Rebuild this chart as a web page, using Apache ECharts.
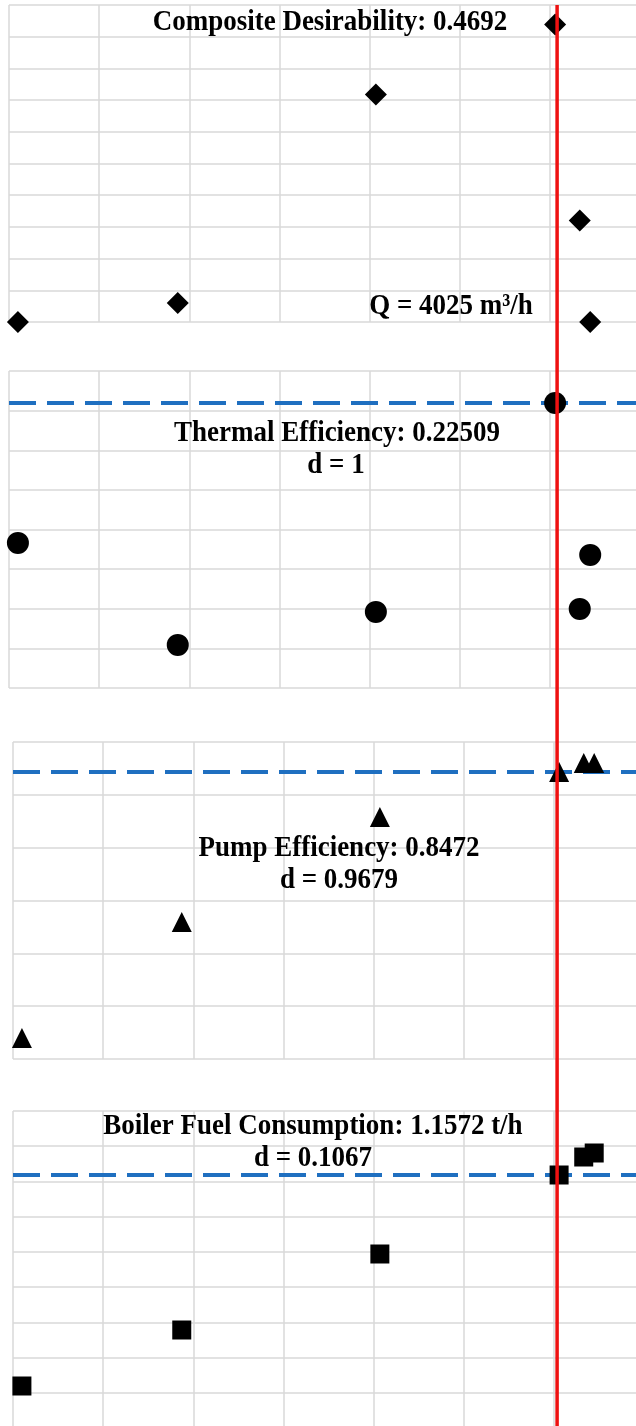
<!DOCTYPE html>
<html>
<head>
<meta charset="utf-8">
<script src="https://cdn.jsdelivr.net/npm/echarts@6/dist/echarts.min.js"></script>
<style>
html,body{margin:0;padding:0;background:#fff;}
#chart{width:636px;height:1426px;}
</style>
</head>
<body>
<div id="chart"></div>
<script>
// ---- data ----
const flowQ = [3000, 3305, 3683, 4025, 4072, 4092];          // m3/h
const optimumQ = 4025;
const compositeD = [0.000, 0.030, 0.359, 0.4692, 0.160, 0.000];
const thermalEff = [0.2111, 0.2009, 0.2042, 0.22509, 0.2045, 0.2099];
const pumpEff = [0.7142, 0.7722, 0.8247, 0.8472, 0.8517, 0.8517];
const boilerFuel = [0.9462, 1.0022, 1.0782, 1.1572, 1.1752, 1.1792];
const thermalOpt = 0.22509;
const pumpOpt = 0.8472;
const boilerOpt = 1.1572;
const labels = [
  "Composite Desirability: 0.4692",
  "Q = 4025 m\u00B3/h",
  "Thermal Efficiency: 0.22509", "d = 1",
  "Pump Efficiency: 0.8472", "d = 0.9679",
  "Boiler Fuel Consumption: 1.1572 t/h", "d = 0.1067"
];

// ---- layout ----
const Q_MIN = 2983, Q_MAX = 4187;
const panels = [
  {left: 9,  top: 5,    cells: 10, ymin: 0,       ymax: 0.5,     vals: compositeD, sym: 'diamond',  size: 22, opt: null},
  {left: 9,  top: 371,  cells: 8,  ymin: 0.19659, ymax: 0.22829, vals: thermalEff, sym: 'circle',   size: 22, opt: thermalOpt},
  {left: 13, top: 742,  cells: 6,  ymin: 0.7037,  ymax: 0.8622,  vals: pumpEff,    sym: 'triangle', size: 20, opt: pumpOpt},
  {left: 13, top: 1111, cells: 9,  ymin: 0.9042,  ymax: 1.2212,  vals: boilerFuel, sym: 'rect',     size: 19, opt: boilerOpt}
];
const PW = 631, PH = 317;
const gridColor = '#d9d9d9';

const grid = [], xAxis = [], yAxis = [], series = [];
panels.forEach((p, i) => {
  grid.push({left: p.left, top: p.top, width: PW, height: PH, containLabel: false, outerBoundsMode: 'none'});
  const hide = {axisLine: {show: false}, axisTick: {show: false}, axisLabel: {show: false}};
  xAxis.push(Object.assign({type: 'value', gridIndex: i, min: 0, max: 7, interval: 1, position: 'bottom',
    splitLine: {show: true, lineStyle: {color: gridColor, width: 1.5}}}, hide));
  xAxis.push(Object.assign({type: 'value', gridIndex: i, min: Q_MIN, max: Q_MAX, position: 'top',
    splitLine: {show: false}}, hide));
  yAxis.push(Object.assign({type: 'value', gridIndex: i, min: 0, max: p.cells, interval: 1, position: 'left',
    splitLine: {show: true, lineStyle: {color: gridColor, width: 1.5}}}, hide));
  yAxis.push(Object.assign({type: 'value', gridIndex: i, min: p.ymin, max: p.ymax, position: 'right',
    splitLine: {show: false}}, hide));
  if (p.opt !== null) {
    series.push({
      type: 'line', xAxisIndex: 2 * i + 1, yAxisIndex: 2 * i + 1, symbol: 'none', silent: true, z: 3,
      lineStyle: {color: '#1f6fc0', width: 4, type: [27, 11]},
      data: [[Q_MIN, p.opt], [Q_MAX, p.opt]]
    });
  }
  series.push({
    type: 'scatter', xAxisIndex: 2 * i + 1, yAxisIndex: 2 * i + 1,
    symbol: p.sym, symbolSize: p.size,
    itemStyle: {color: '#000', opacity: 1}, z: 4, silent: true,
    data: flowQ.map((q, k) => [q, p.vals[k]])
  });
});

// overlay for red optimum line
grid.push({left: 11, top: 5, width: PW, bottom: 0, containLabel: false, outerBoundsMode: 'none'});
xAxis.push({type: 'value', gridIndex: 4, min: Q_MIN, max: Q_MAX, show: false});
yAxis.push({type: 'value', gridIndex: 4, min: 0, max: 1, show: false});
series.push({
  type: 'line', xAxisIndex: 8, yAxisIndex: 8, symbol: 'none', silent: true, z: 10,
  lineStyle: {color: '#ee1111', width: 3.5},
  data: [[optimumQ, 0], [optimumQ, 1]]
});

const font = 'bold 27px "Liberation Serif", "Times New Roman", serif';
const textPos = [[330, 22], [451, 306], [337, 433], [336, 465], [339, 848], [339, 880], [313, 1126], [313, 1158]];
const graphic = labels.map((t, i) => ({
  type: 'text', x: textPos[i][0], y: textPos[i][1], scaleY: 1.12, z: 20, silent: true,
  style: {text: t, font: font, fill: '#000', textAlign: 'center', textVerticalAlign: 'middle'}
}));

const chart = echarts.init(document.getElementById('chart'), null, {renderer: 'canvas'});
chart.setOption({animation: false, backgroundColor: '#fff', grid, xAxis, yAxis, series, graphic});
</script>
</body>
</html>
